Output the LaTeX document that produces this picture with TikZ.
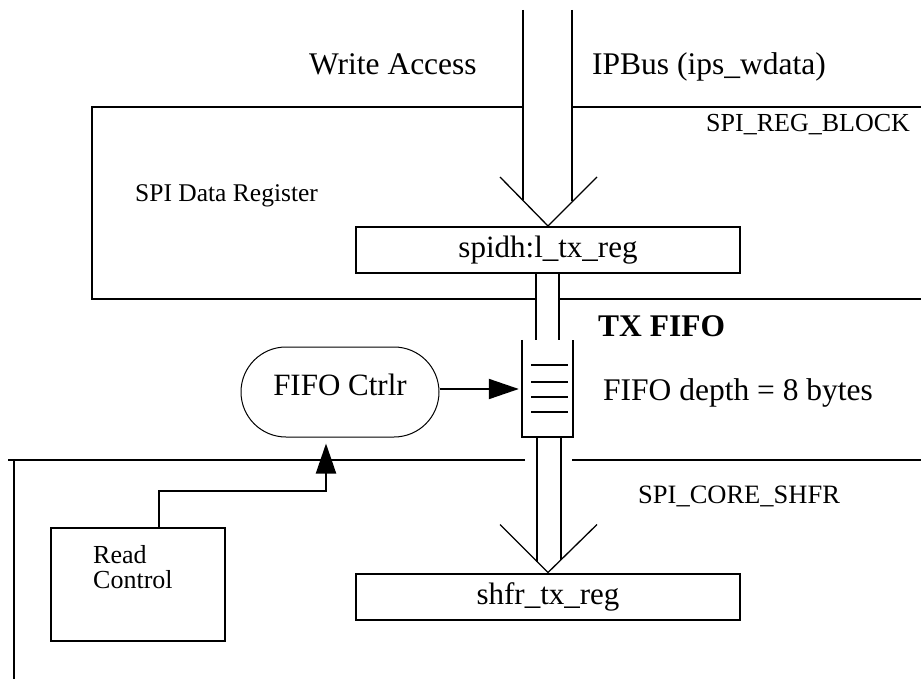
\documentclass[tikz,border=0pt]{standalone}
\usepackage{fontspec}
\setmainfont{Liberation Serif}
\usetikzlibrary{arrows.meta}
\begin{document}
\begin{tikzpicture}[x=1pt,y=-1pt,
  frame/.style={line width=2pt},
  chev/.style={line width=1.3pt},
  regbox/.style={draw,line width=2pt,minimum width=384pt,minimum height=46pt,inner sep=0pt,
    font=\fontsize{31}{31}\selectfont,text height=20pt,text depth=5pt},
  ctrlbox/.style={draw,line width=1pt,rounded corners=45pt,minimum width=198pt,minimum height=90pt,
    inner sep=0pt,font=\fontsize{31}{31}\selectfont,text height=20pt,text depth=14pt},
  plainbox/.style={draw,line width=2pt,inner sep=0pt},
  lbl/.style={anchor=base west,inner sep=0pt},
  big/.style={font=\fontsize{31}{31}\selectfont},
  mid/.style={font=\fontsize{26}{25}\selectfont},
  sig/.style={line width=2pt,-{Triangle[length=30pt,width=20pt]}}]
\useasboundingbox (0,0) rectangle (921,679);

% nodes
\node[regbox] (spidh) at (548,250) {spidh:l\_tx\_reg};
\node[regbox] (shfr) at (548,596.5) {shfr\_tx\_reg};
\node[ctrlbox] (ctrl) at (340,392) {FIFO Ctrlr};
\node[plainbox,minimum width=174pt,minimum height=113pt,anchor=north west] (rc) at (50,527) {};
\node[lbl,mid,align=left] (rctext) at (93,588) {Read\\Control};
\node[inner sep=0pt,minimum width=51pt,minimum height=97pt] (fifo) at (547.5,388.5) {};
\coordinate (busin) at (548,10);

% labels
\node[lbl,font=\fontsize{31.5}{31.5}\selectfont] (wa) at (309,75) {Write Access};
\node[lbl,font=\fontsize{31.5}{31.5}\selectfont] (ipb) at (592,75) {IPBus (ips\_wdata)};
\node[lbl,mid] (regblk) at (706,132) {SPI\_REG\_BLOCK};
\node[lbl,font=\fontsize{25.5}{25.5}\selectfont] (sdr) at (135,202) {SPI Data Register};
\node[lbl,big,font=\fontsize{31.5}{31.5}\selectfont\bfseries] (txf) at (598,336) {TX FIFO};
\node[lbl,font=\fontsize{31.5}{31.5}\selectfont] (depth) at (603,400) {FIFO depth = 8 bytes};
\node[lbl,font=\fontsize{26.5}{26.5}\selectfont] (core) at (638,503) {SPI\_CORE\_SHFR};

% block outlines
\draw[frame] (523,107) -- (92,107) -- (92,299) -- (536,299);
\draw[frame] (572,107) -- (921,107);
\draw[frame] (559,299) -- (921,299);
\draw[frame] (525,460) -- (8,460);
\draw[frame] (14,460) -- (14,679);
\draw[frame] (572,460) -- (921,460);

% top bus
\draw[frame] ([xshift=-25pt]busin) -- ([shift={(-25,-26)}]spidh.north);
\draw[frame] ([xshift=24pt]busin) -- ([shift={(24,-25)}]spidh.north);
\draw[chev] ([shift={(-48,-49)}]spidh.north) -- (spidh.north) -- ([shift={(49,-49)}]spidh.north);

% middle bus
\draw[frame] ([xshift=-12pt]spidh.south) -- ([xshift=-12pt]spidh.south |- fifo.north);
\draw[frame] ([xshift=11pt]spidh.south) -- ([xshift=11pt]spidh.south |- fifo.north);

% FIFO
\draw[frame] (fifo.north west) -- (fifo.south west) -- (fifo.south east) -- (fifo.north east);
\foreach \yy in {365,382,397,412} \draw[frame] (531,\yy) -- (568,\yy);

% bottom bus
\draw[frame] ([xshift=-11pt]shfr.north |- fifo.south) -- ([shift={(-11,-11)}]shfr.north);
\draw[frame] ([xshift=13pt]shfr.north |- fifo.south) -- ([shift={(13,-13)}]shfr.north);
\draw[chev] ([shift={(-48,-48)}]shfr.north) -- (shfr.north) -- ([shift={(49,-48)}]shfr.north);

% arrows
\draw[sig,shorten >=3pt] (ctrl.east |- 0,389) -- (fifo.west |- 0,389);
\draw[sig,shorten >=6pt] ([xshift=21pt]rc.north) -- ++(0,-36) -| ([xshift=-14pt]ctrl.south);
\end{tikzpicture}
\end{document}
